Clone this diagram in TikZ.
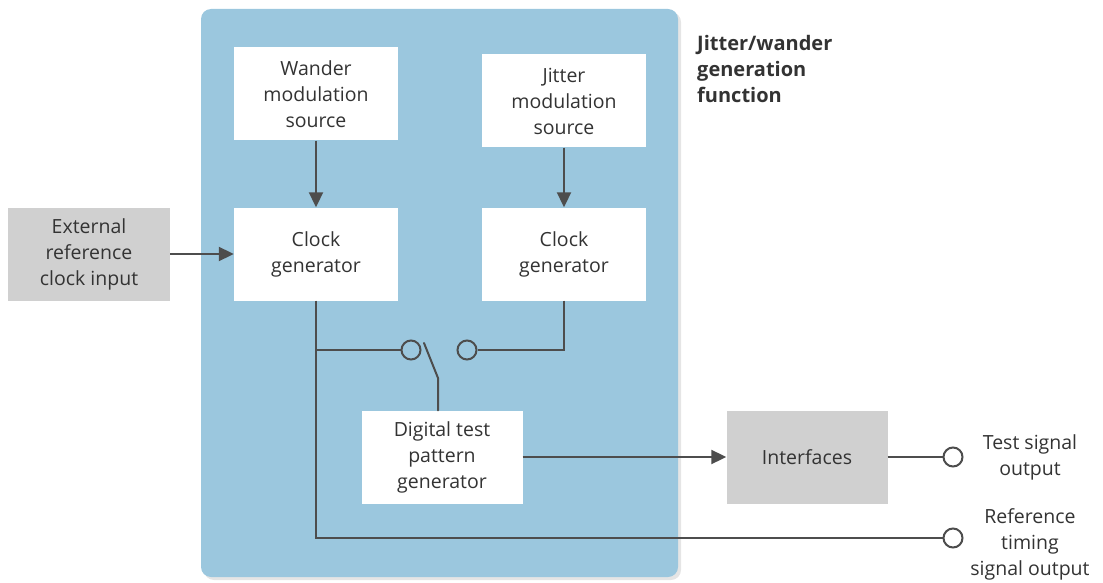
\documentclass[tikz,border=0pt]{standalone}
\usepackage{fontspec}
\setmainfont{Open Sans}
\usetikzlibrary{arrows.meta,positioning}
\definecolor{panel}{HTML}{9BC7DE}
\definecolor{greybox}{HTML}{D0D0D0}
\definecolor{ln}{HTML}{4D4D4D}
\definecolor{txt}{HTML}{333333}
\tikzset{
  blk/.style={fill=white,draw=none,minimum width=164pt,minimum height=93pt,align=center,inner sep=0pt,text=txt,font=\fontsize{19.5}{26}\selectfont},
  gblk/.style={blk,fill=greybox},
  wire/.style={draw=ln,line width=2pt},
  arr/.style={wire,-{Triangle[length=15pt,width=14pt]}},
  term/.style={circle,draw=ln,line width=2pt,fill=none,minimum size=19pt,inner sep=0pt},
  lbl/.style={align=center,text=txt,font=\fontsize{19.5}{26}\selectfont,inner sep=0pt}
}
\begin{document}
\begin{tikzpicture}[x=1pt,y=-1pt]
\useasboundingbox (0,0) rectangle (1103,583);
% panel shadow and panel
\fill[black!10,rounded corners=10pt] (204,12) rectangle (681,580);
\fill[panel,rounded corners=10pt] (201,9) rectangle (678,577);
\node[blk] (wms) at (316,94) {Wander\\modulation\\source};
\node[blk] (jms) at (564,101) {Jitter\\modulation\\source};
\node[blk] (cg1) at (316,254) {Clock\\generator};
\node[blk] (cg2) at (564,254) {Clock\\generator};
\node[gblk,minimum width=162pt] (ext) at (89,254) {External\\reference\\clock input};
\node[blk,minimum width=161pt] (dtp) at (442,457) {Digital test\\pattern\\generator};
\node[gblk,minimum width=161pt] (itf) at (807,457) {Interfaces};
\node[font=\bfseries\fontsize{20}{26}\selectfont,align=left,anchor=north west,inner sep=0pt,text=txt] (title) at (697,35) {Jitter/wander\\generation\\function};
% terminals
\node[term] (s1) at (411,350) {};
\node[term] (s2) at (467,350) {};
\node[term] (o1) at (953,457) {};
\node[term] (o2) at (953,538) {};
\coordinate (swtop) at (424,343);
\coordinate (swbot) at (438,378);
\coordinate (br) at (316,350);
% arrows
\draw[arr] (wms.south) -- (cg1.north);
\draw[arr] (jms.south) -- (cg2.north);
\draw[arr] (ext.east) -- (cg1.west);
\draw[arr] (dtp.east) -- (itf.west);
% wires
\draw[wire] (cg1.south) -- (316,538) -- (o2.west);
\draw[wire] (br) -- (s1.west);
\draw[wire] (cg2.south) |- (s2.east);
\draw[wire,line cap=round] (swtop) -- (swbot) -- (swbot |- dtp.north);
\draw[wire] (itf.east) -- (o1.west);
% labels
\node[lbl] (l1) at (1030,457) {Test signal\\output};
\node[lbl] (l2) at (1030,544) {Reference\\timing\\signal output};
\end{tikzpicture}
\end{document}
